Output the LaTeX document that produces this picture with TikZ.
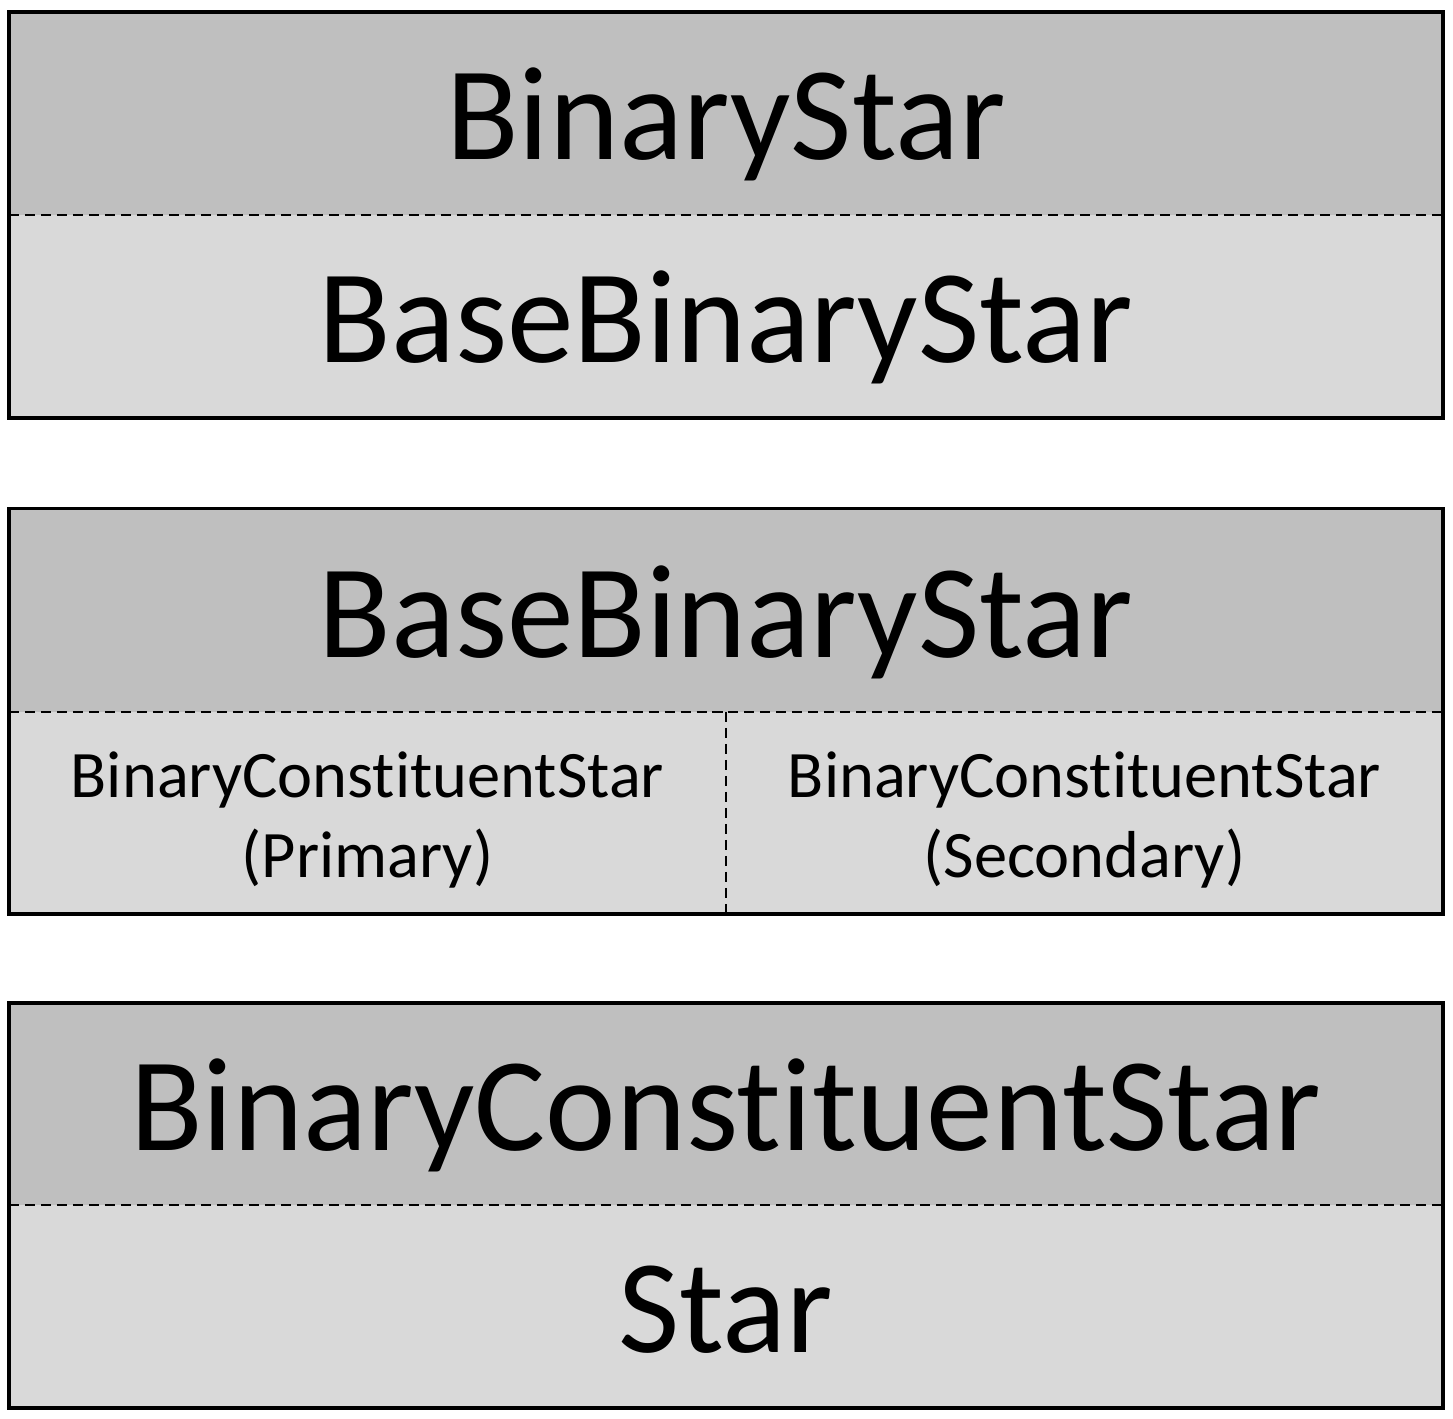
\documentclass[tikz,border=0pt]{standalone}
\usepackage{fontspec}
\setmainfont{Carlito}[Ligatures=NoCommon]
\definecolor{hdgray}{RGB}{191,191,191}
\definecolor{bdgray}{RGB}{217,217,217}

\begin{document}
\begin{tikzpicture}[x=0.02cm, y=-0.02cm,
  big/.style={font=\fontsize{75.9pt}{90pt}\selectfont, anchor=base, inner sep=0pt},
  small/.style={font=\fontsize{37.8pt}{45.4pt}\selectfont, align=center, inner sep=0pt},
  frame/.style={draw, line width=2pt},
  split/.style={draw, line width=1.2pt, dash pattern=on 5.7pt off 3.4pt}]
\useasboundingbox (0,0) rectangle (1453,1419);
% BinaryStar
\fill[hdgray] (9,12) rectangle (1443,215);
\fill[bdgray] (9,215) rectangle (1443,418);
\draw[split] (9,215) -- (1443,215);
\draw[frame] (9,12) rectangle (1443,418);
\node[big] (bsTop) at (726,160) {BinaryStar};
\node[big] (bsBase) at (726,362) {BaseBinaryStar};
% BaseBinaryStar
\fill[hdgray] (9,508.5) rectangle (1443,712);
\fill[bdgray] (9,712) rectangle (1443,914);
\draw[split] (9,712) -- (1443,712);
\draw[split] (726,712) -- (726,914);
\draw[frame] (9,508.5) rectangle (1443,914);
\node[big] (bbsTop) at (726,657) {BaseBinaryStar};
\node[small] (bbsPrim) at (367.5,820) {BinaryConstituentStar\\(Primary)};
\node[small] (bbsSec) at (1084.5,820) {BinaryConstituentStar\\(Secondary)};
% BinaryConstituentStar
\fill[hdgray] (9,1003) rectangle (1443,1205);
\fill[bdgray] (9,1205) rectangle (1443,1408);
\draw[split] (9,1205) -- (1443,1205);
\draw[frame] (9,1003) rectangle (1443,1408);
\node[big] (bcsTop) at (726,1150) {BinaryConstituentStar};
\node[big] (bcsStar) at (726,1352) {Star};
\end{tikzpicture}
\end{document}
